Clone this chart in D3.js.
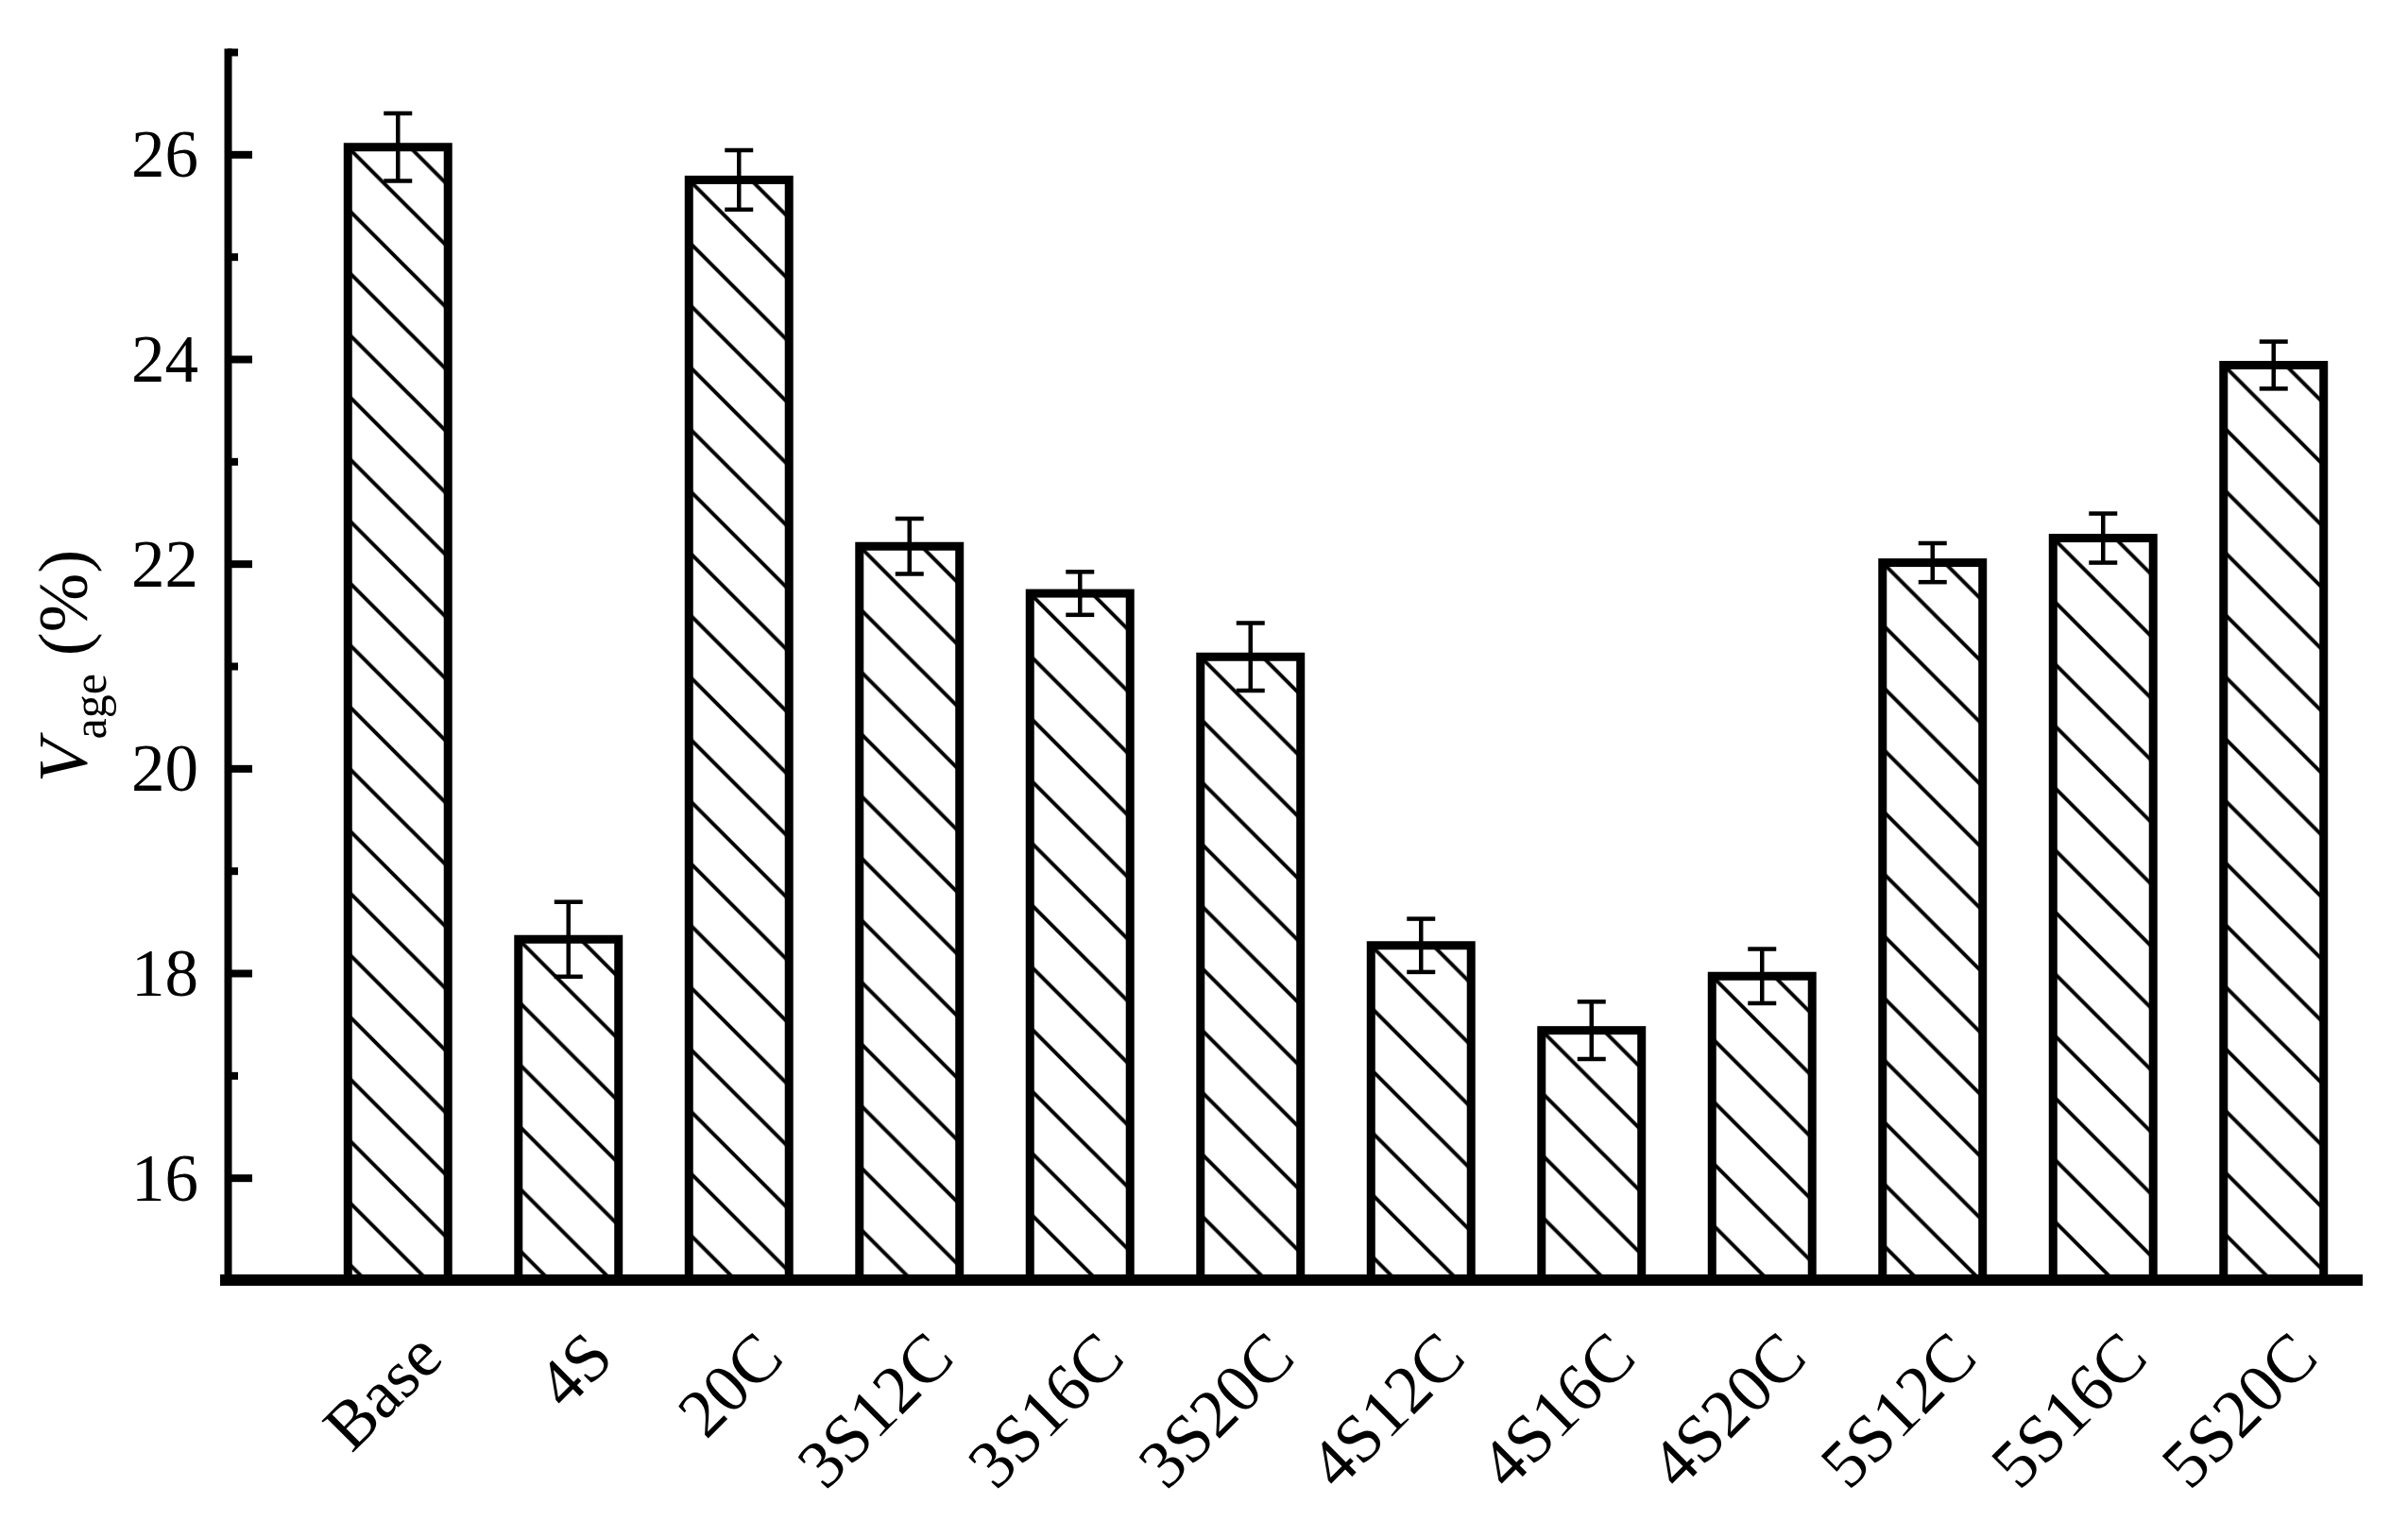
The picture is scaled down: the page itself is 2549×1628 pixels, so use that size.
<!DOCTYPE html>
<html><head><meta charset="utf-8">
<script src="https://cdn.jsdelivr.net/npm/d3@7/dist/d3.min.js"></script>
<style>body{margin:0;background:#fff;} svg{display:block;}</style>
</head><body>
<script>
const categories = ["Base","4S","20C","3S12C","3S16C","3S20C","4S12C","4S16C","4S20C","5S12C","5S16C","5S20C"];
const values = [26.07,18.33,25.75,22.17,21.71,21.09,18.27,17.44,17.97,22.01,22.25,23.94];
const errors = [0.33,0.365,0.29,0.27,0.21,0.33,0.26,0.28,0.265,0.19,0.24,0.23];
const yMajorTicks = [16,18,20,22,24,26];
const yMinorTicks = [17,19,21,23,25,27];
const yDomain = [15,27];

const W = 2549, H = 1628;
const axisX = 241, plotTop = 55, plotBottom = 1355, plotRight = 2497;
const font = "'Liberation Serif','Times New Roman',serif";

const svg = d3.select("body").append("svg").attr("width", W).attr("height", H)
  .style("background", "#fff");

const y = d3.scaleLinear().domain(yDomain).range([plotBottom, plotTop]);
const x = d3.scaleBand().domain(categories).range([axisX + 90, plotRight])
  .paddingInner(0.413).paddingOuter(0.2065);

const data = categories.map((c, i) => ({c, v: values[i], e: errors[i], i}));

// hatch patterns anchored at each bar's top-left corner
const hs = 65.6;
const defs = svg.append("defs");
data.forEach(d => {
  const p = defs.append("pattern").attr("id", "hatch" + d.i)
    .attr("patternUnits", "userSpaceOnUse").attr("width", hs).attr("height", hs)
    .attr("patternTransform", `translate(${x(d.c)},${y(d.v)})`);
  p.append("rect").attr("width", hs).attr("height", hs).attr("fill", "#fff");
  p.append("path")
    .attr("d", `M${-hs/4},${hs*3/4} l${hs/2},${hs/2} M0,0 l${hs},${hs} M${hs*3/4},${-hs/4} l${hs/2},${hs/2}`)
    .attr("stroke", "#000").attr("stroke-width", 4);
});

// bars
svg.append("g").selectAll("rect").data(data).join("rect")
  .attr("x", d => x(d.c)).attr("y", d => y(d.v))
  .attr("width", x.bandwidth()).attr("height", d => y(yDomain[0]) - y(d.v))
  .attr("fill", d => `url(#hatch${d.i})`)
  .attr("stroke", "#000").attr("stroke-width", 9).attr("stroke-linejoin", "miter");

// error bars
const capW = 30;
const eg = svg.append("g").attr("stroke", "#000").attr("stroke-width", 4.5);
data.forEach(d => {
  const cx = x(d.c) + x.bandwidth() / 2;
  eg.append("line").attr("x1", cx).attr("x2", cx).attr("y1", y(d.v + d.e)).attr("y2", y(d.v - d.e));
  eg.append("line").attr("x1", cx - capW/2).attr("x2", cx + capW/2).attr("y1", y(d.v + d.e)).attr("y2", y(d.v + d.e));
  eg.append("line").attr("x1", cx - capW/2).attr("x2", cx + capW/2).attr("y1", y(d.v - d.e)).attr("y2", y(d.v - d.e));
});

// y axis: major ticks inward
const yAxis = d3.axisLeft(y).tickValues(yMajorTicks).tickSizeInner(-26).tickSizeOuter(0).tickPadding(31)
  .tickFormat(d3.format("d"));
const ga = svg.append("g").attr("transform", `translate(${axisX},0)`).call(yAxis);
ga.select(".domain").attr("stroke-width", 8).attr("stroke-linecap", "square");
ga.selectAll(".tick line").attr("stroke-width", 8);
ga.selectAll(".tick text").attr("font-family", font).attr("font-size", 71).attr("fill", "#000").attr("dy", "0.33em");
// minor ticks
const yMinor = d3.axisLeft(y).tickValues(yMinorTicks).tickSizeInner(-11).tickSizeOuter(0).tickFormat("");
const gm = svg.append("g").attr("transform", `translate(${axisX},0)`).call(yMinor);
gm.select(".domain").remove();
gm.selectAll(".tick line").attr("stroke-width", 8);

// x axis
const xAxis = d3.axisBottom(x).tickSize(0).tickPadding(0);
const gx = svg.append("g").attr("transform", `translate(0,${y(yDomain[0])})`).call(xAxis);
gx.select(".domain").remove();
gx.append("line").attr("x1", axisX - 8).attr("x2", plotRight + 4).attr("y1", 0).attr("y2", 0)
  .attr("stroke", "#000").attr("stroke-width", 12);
gx.selectAll(".tick text")
  .attr("font-family", font).attr("font-size", 72).attr("fill", "#000")
  .attr("text-anchor", "end").attr("y", 0).attr("dy", 0)
  .attr("transform", "translate(50,85) rotate(-45)");

// y label
const yl = svg.append("text")
  .attr("transform", `translate(92,${(plotTop + plotBottom) / 2}) rotate(-90)`)
  .attr("text-anchor", "middle").attr("font-family", font).attr("font-size", 75).attr("fill", "#000");
yl.append("tspan").attr("font-style", "italic").text("V");
yl.append("tspan").attr("font-size", 50).attr("dy", 20).text("age");
yl.append("tspan").attr("dy", -20).text("\u00a0(%)");
</script>
</body></html>
